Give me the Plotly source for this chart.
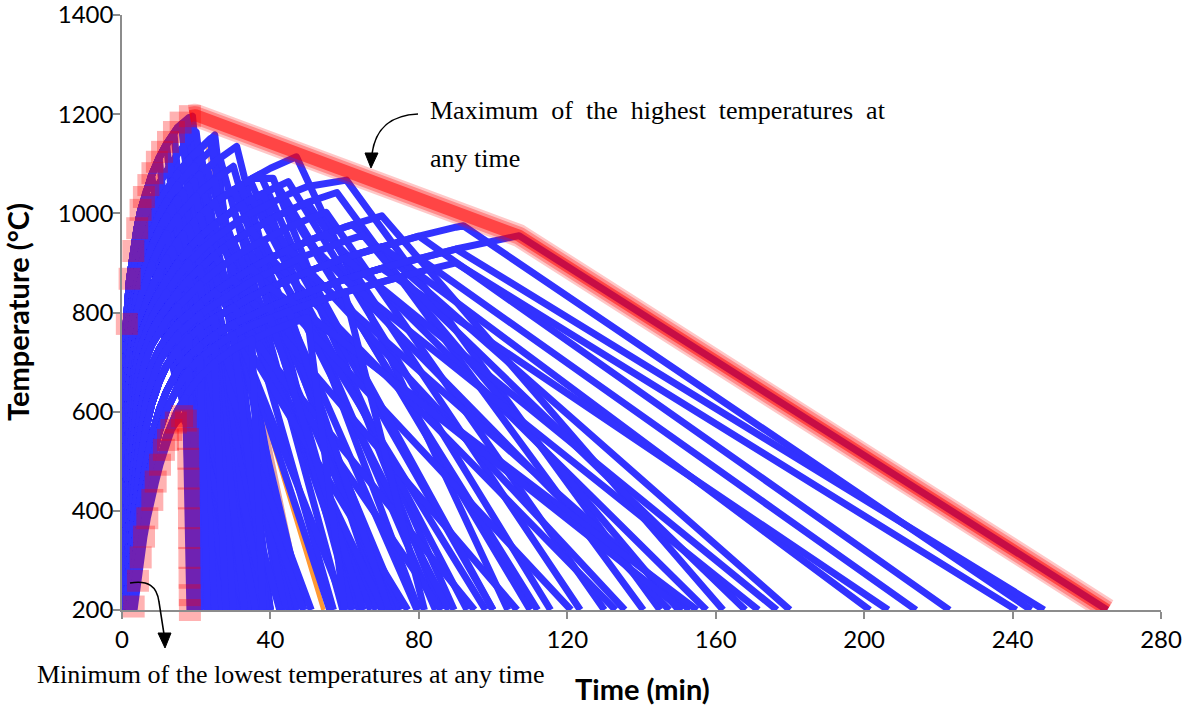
import plotly.graph_objects as go

# ---------------------------------------------------------------- data
# Heating branches: gas temperature (°C) at heat_time (min), one list per growth rate.
heat_time = [0, 0.5, 1, 2, 3, 4, 5, 6.5, 8, 10, 12, 15, 18, 21, 25, 30, 35, 40, 45, 50, 60, 70, 80, 90, 100, 110]
rise_fast = [20, 690, 765, 865, 922, 968, 1005, 1045, 1077, 1112, 1140, 1173, 1193, 1200]
rise_g13 = [20, 618, 736, 822, 877, 922, 957, 996, 1028, 1060, 1086, 1120, 1148, 1172]
rise_g10 = [20, 559, 699, 789, 841, 882, 916, 957, 988, 1022, 1048, 1081, 1108, 1131, 1158]
rise_g85 = [20, 519, 672, 770, 819, 858, 891, 931, 963, 997, 1025, 1057, 1084, 1107, 1133, 1161]
rise_g7 = [20, 469, 636, 746, 795, 832, 863, 901, 933, 967, 995, 1029, 1055, 1078, 1104, 1131, 1155]
rise_g55 = [20, 406, 582, 713, 766, 800, 829, 866, 897, 930, 959, 993, 1020, 1043, 1068, 1095, 1118, 1138]
rise_g4 = [20, 330, 503, 660, 726, 762, 789, 822, 850, 882, 910, 944, 972, 995, 1022, 1048, 1070, 1091, 1108, 1124]
rise_g3 = [20, 268, 429, 603, 683, 726, 755, 786, 811, 841, 867, 900, 928, 952, 978, 1006, 1029, 1048, 1065, 1081, 1108]
rise_g25 = [20, 234, 383, 559, 649, 699, 731, 764, 789, 816, 841, 872, 900, 924, 950, 978, 1001, 1022, 1039, 1054, 1081, 1104]
rise_g2 = [20, 199, 330, 503, 603, 660, 699, 736, 762, 789, 811, 841, 867, 889, 916, 944, 967, 988, 1006, 1022, 1048, 1070]
rise_g16 = [20, 167, 282, 445, 550, 615, 660, 705, 734, 762, 784, 811, 835, 857, 882, 910, 933, 954, 972, 988, 1016, 1037]
rise_g12 = [20, 134, 228, 374, 477, 550, 603, 657, 693, 726, 750, 777, 798, 817, 841, 867, 889, 910, 928, 944, 972, 995]
rise_g1 = [20, 116, 199, 330, 429, 503, 559, 618, 660, 699, 726, 755, 777, 795, 816, 841, 863, 882, 900, 916, 944, 967]
rise_g08 = [20, 99, 167, 282, 374, 445, 503, 568, 615, 660, 693, 726, 750, 769, 789, 811, 832, 850, 867, 882, 910, 933, 954, 972, 988]
rise_g06 = [20, 79, 134, 228, 308, 374, 429, 497, 550, 603, 641, 683, 711, 732, 755, 777, 795, 811, 827, 841, 867, 889, 910, 928, 944, 959]
rise_g05 = [20, 70, 116, 199, 268, 330, 383, 449, 503, 559, 603, 649, 683, 707, 731, 755, 774, 789, 803, 816, 841, 863, 882, 900, 916, 930]
rise_g04 = [20, 60, 99, 167, 228, 282, 330, 394, 445, 503, 550, 603, 641, 670, 699, 726, 746, 762, 777, 789, 811]

# Fires of each growth rate: (peak time min, peak temperature °C, time the decay reaches 200 °C)
fires_fast = [(19, 1196, 32), (18, 1193, 36), (17, 1186, 28), (16, 1180, 30), (14, 1162, 26),
              (12, 1140, 24.5), (10, 1112, 23.5), (8, 1077, 25.5), (6.5, 1045, 27.5), (5, 1005, 29.5)]
fires_g13 = [(20, 1164, 36), (16.5, 1134, 38.5), (13, 1097, 34), (10, 1060, 30.5), (6.5, 996, 28.5)]
fires_g10 = [(25, 1158, 40), (23.7, 1150, 46.5), (21, 1131, 43), (18, 1108, 40), (16.5, 1095, 39),
             (15, 1081, 36.5), (13.5, 1065, 35), (12, 1048, 33), (10, 1022, 30), (8, 988, 27),
             (6.5, 957, 29), (5, 916, 32.5)]
fires_g85 = [(24.5, 1130, 46), (19.5, 1096, 37), (15, 1057, 38), (12, 1025, 34), (8, 963, 28)]
fires_g7 = [(30.9, 1135, 62), (26.4, 1112, 59.5), (23, 1091, 57), (21, 1078, 49), (19.5, 1066, 38),
            (18, 1055, 45.5), (16.5, 1042, 36), (15, 1029, 39), (13.5, 1012, 37.5), (12, 995, 35),
            (10, 967, 31), (8, 933, 29)]
fires_g55 = [(30, 1095, 64), (25, 1068, 45), (20, 1035, 38), (15, 993, 35), (12, 959, 36), (8, 897, 30)]
fires_g4 = [(47, 1114, 104), (40.7, 1071, 86), (37.2, 1079, 89.5), (34.5, 1068, 84.5),
            (32, 1057, 70), (30, 1048, 79.5), (25, 1022, 65), (23, 1009, 44), (21, 995, 56),
            (19.5, 984, 39), (18, 972, 47.5), (16.5, 958, 36), (15, 944, 42.5), (13.5, 927, 34),
            (12, 910, 37), (10, 882, 34)]
fires_g3 = [(44.8, 1064, 115.5), (42, 1055, 110), (38, 1040, 80), (35, 1029, 93),
            (32.5, 1018, 71), (30, 1006, 75), (27.5, 992, 64), (25, 978, 68.5), (21, 952, 60.5),
            (18, 928, 37), (15, 900, 49), (12, 867, 31), (10, 841, 32)]
fires_g25 = [(60.5, 1067, 145), (33, 992, 74), (18, 900, 38), (12, 841, 33)]
fires_g2 = [(57.9, 1042, 140.5), (50, 1022, 123.5), (45, 1006, 112), (40, 988, 100),
            (35, 967, 98), (30, 944, 73), (27.5, 930, 67), (25, 916, 70.5), (21, 889, 40),
            (18, 867, 51), (15, 841, 34), (10, 789, 36)]
fires_g16 = [(55, 1002, 130), (38, 946, 88), (21, 857, 37), (15, 811, 35)]
fires_g12 = [(70, 995, 162), (62, 977, 180), (55, 958, 157.5), (50, 944, 147.5), (45, 928, 135.5),
             (40, 910, 133), (35, 889, 121), (30, 867, 106.5), (25, 841, 95), (21, 817, 39),
             (18, 798, 36), (15, 777, 38), (12, 750, 31)]
fires_g1 = [(65, 956, 150), (48, 910, 100), (37, 871, 64), (21, 795, 36), (15, 755, 29)]
fires_g08 = [(92, 975, 245), (80, 954, 223), (70, 933, 201.5), (60, 910, 176.5), (50, 882, 153),
             (40, 850, 155), (30, 811, 86), (25, 789, 34), (21, 769, 36), (18, 750, 21.8), (15, 726, 27)]
fires_g06 = [(107, 955, 265.5), (90, 928, 248.5), (80, 910, 214), (70, 889, 206.5), (60, 867, 171.5),
             (45, 827, 151), (40, 811, 62), (30, 777, 77), (25, 755, 33), (21, 732, 25), (18, 711, 20.8)]
fires_g05 = [(90, 900, 241), (75, 872, 168), (60, 841, 81.5), (45, 803, 72), (40, 789, 65),
             (30, 755, 39), (25, 731, 30), (21, 707, 23), (18, 683, 19.8)]
fires_g04 = [(50, 789, 60), (35, 746, 38), (25, 699, 28), (17, 628, 19.3)]

# Two fires drawn in their own colours: (heating branch, peak time, peak temp, end time, colour)
orange_fire = ("g4", 22, 1002, 54.3, "#FF9933")
pink_fire = ("g10", 22.8, 1143, 48.8, "#E3A3A0")

# Slowest fire (lowest temperatures)
min_fire_time = [0, 3.15, 4.3, 5.04, 5.93, 6.82, 8.17, 9.08, 10.24, 11.3, 12.4, 13.3, 14.5, 16.2, 17.3, 18.3]
min_fire_temp = [20, 207, 259, 306, 348, 385, 422, 459, 493, 523, 543, 563, 578, 591, 575, 200]

# Envelope of the highest temperatures
max_env_time = [1.3, 2.05, 3.05, 4.1, 5.0, 5.9, 7.1, 8.2, 9.4, 10.8, 12.4, 14.0, 15.8, 18.3]
max_env_temp = [777, 868, 924, 970, 1007, 1033, 1057, 1081, 1104, 1124, 1144, 1164, 1183, 1196]
max_env_tail_time = [18.3, 19.8, 107, 265.5]
max_env_tail_temp = [1196, 1198, 955, 200]

# Envelope of the lowest temperatures
min_env_time = [3.15, 4.3, 5.04, 5.93, 6.82, 8.17, 9.08, 10.24, 11.3, 12.4, 13.3, 14.5, 16.2, 17.2,
                17.75, 17.85, 17.95, 18.0, 18.05, 18.1, 18.15, 18.2, 18.25, 18.3]
min_env_temp = [207, 259, 306, 348, 385, 422, 459, 493, 523, 543, 563, 578, 591, 582,
                545, 505, 465, 425, 385, 345, 305, 265, 230, 200]

x_ticks = [0, 40, 80, 120, 160, 200, 240, 280]
y_ticks = [200, 400, 600, 800, 1000, 1200, 1400]

rise_profiles = {
    "fast": rise_fast, "g13": rise_g13, "g10": rise_g10, "g85": rise_g85, "g7": rise_g7,
    "g55": rise_g55, "g4": rise_g4, "g3": rise_g3, "g25": rise_g25, "g2": rise_g2,
    "g16": rise_g16, "g12": rise_g12, "g1": rise_g1, "g08": rise_g08, "g06": rise_g06,
    "g05": rise_g05, "g04": rise_g04,
}
fire_groups = [
    ("fast", fires_fast), ("g13", fires_g13), ("g10", fires_g10), ("g85", fires_g85),
    ("g7", fires_g7), ("g55", fires_g55), ("g4", fires_g4), ("g3", fires_g3),
    ("g25", fires_g25), ("g2", fires_g2), ("g16", fires_g16), ("g12", fires_g12),
    ("g1", fires_g1), ("g08", fires_g08), ("g06", fires_g06), ("g05", fires_g05),
    ("g04", fires_g04),
]

BLUE = "#3232FF"
GREY = "#8C8C8C"
LINE_W = 7


def fire_points(key, tp, Tp, te):
    xs, ys = [], []
    for t, T in zip(heat_time, rise_profiles[key]):
        if t < tp and T < Tp:
            xs.append(t)
            ys.append(T)
    return xs + [tp, te], ys + [Tp, 200]


fig = go.Figure()

for key, tp, Tp, te, col in (orange_fire, pink_fire):
    xs, ys = fire_points(key, tp, Tp, te)
    fig.add_trace(go.Scatter(x=xs, y=ys, mode="lines", line=dict(color=col, width=4.5),
                             hoverinfo="skip"))

for key, fires in fire_groups:
    for tp, Tp, te in fires:
        xs, ys = fire_points(key, tp, Tp, te)
        fig.add_trace(go.Scatter(x=xs, y=ys, mode="lines", line=dict(color=BLUE, width=LINE_W),
                                 hoverinfo="skip"))

fig.add_trace(go.Scatter(x=min_fire_time, y=min_fire_temp, mode="lines",
                         line=dict(color=BLUE, width=LINE_W), hoverinfo="skip"))

# translucent red envelopes on top
for w, a in [(23, 0.22), (18, 0.3), (12, 0.5)]:
    fig.add_trace(go.Scatter(x=max_env_tail_time, y=max_env_tail_temp, mode="lines",
                             line=dict(color=f"rgba(255,0,0,{a})", width=w), hoverinfo="skip"))

sq = dict(symbol="square", size=22, color="rgba(255,0,0,0.3)", line=dict(width=0))
fig.add_trace(go.Scatter(x=max_env_time, y=max_env_temp, mode="markers", marker=sq,
                         cliponaxis=False, hoverinfo="skip"))
fig.add_trace(go.Scatter(x=min_env_time, y=min_env_temp, mode="markers", marker=sq,
                         cliponaxis=False, hoverinfo="skip"))

# ---------------------------------------------------------------- layout
L, R, T, B = 122, 25, 15, 96
W, H = 1186, 706
PW, PH = W - L - R, H - T - B


def px(x, y):
    return (x - L) / PW, (H - B - y) / PH


def path(points, cmd):
    parts = []
    for c, (x, y) in zip(cmd, points):
        xp, yp = px(x, y)
        parts.append(f"{c}{xp:.5f},{yp:.5f}")
    return " ".join(parts)


shapes = [
    # curved leader to the upper envelope
    dict(type="path", xref="paper", yref="paper",
         path=path([(418, 114), (395, 115), (376, 124), (372, 154)], ["M", "C", " ", " "]),
         line=dict(color="black", width=1.6)),
    dict(type="path", xref="paper", yref="paper",
         path=path([(365, 153), (378, 153), (371, 168)], ["M", "L", "L"]) + " Z",
         fillcolor="black", line=dict(color="black", width=1)),
    # curved leader to the lower envelope
    dict(type="path", xref="paper", yref="paper",
         path=path([(130, 583), (148, 580), (157, 586), (159, 602), (164, 634)],
                   ["M", "C", " ", " ", "L"]),
         line=dict(color="black", width=1.6)),
    dict(type="path", xref="paper", yref="paper",
         path=path([(158, 633), (171, 633), (165, 648)], ["M", "L", "L"]) + " Z",
         fillcolor="black", line=dict(color="black", width=1)),
]

serif = dict(family="Liberation Serif, Times New Roman, serif", size=26, color="black")
sans_b = dict(family="Lato, Carlito, Calibri, sans-serif", size=29, color="black")


def note(text, x, y, **kw):
    xa, ya = px(x, y)
    d = dict(text=text, x=xa, y=ya, xref="paper", yref="paper", xanchor="left",
             yanchor="middle", showarrow=False, font=serif)
    d.update(kw)
    return d


annotations = [
    note("Maximum\u00a0 of\u00a0 the\u00a0 highest\u00a0 temperatures\u00a0 at", 428, 111),
    note("any time", 428, 158),
    note("Minimum of the lowest temperatures at any time", 35, 674),
    note("<b>Temperature (°C)</b>", 17, 312, xanchor="center", textangle=-90, font=sans_b),
    note("<b>Time (min)</b>", 642, 688, xanchor="center", font=sans_b),
]

axis_common = dict(showgrid=False, zeroline=False, showline=True, linecolor=GREY, linewidth=1.5,
                   ticks="outside", ticklen=7, tickwidth=1.5, tickcolor=GREY, automargin=False,
                   ticklabeloverflow="allow",
                   tickfont=dict(family="Lato, Carlito, Calibri, sans-serif", size=24, color="black"))

fig.update_layout(
    width=W, height=H, margin=dict(l=L, r=R, t=T, b=B, autoexpand=False),
    paper_bgcolor="white", plot_bgcolor="white", showlegend=False,
    xaxis=dict(range=[0, 280], tickvals=x_ticks, **axis_common),
    yaxis=dict(range=[200, 1400], tickvals=y_ticks, ticklabelstandoff=-5, **axis_common),
    shapes=shapes, annotations=annotations,
)

fig.write_html(
    "out.html",
    post_script="document.querySelectorAll('.scatterlayer path.js-line')"
                ".forEach(function(p){p.style.strokeLinejoin='round';});",
)
